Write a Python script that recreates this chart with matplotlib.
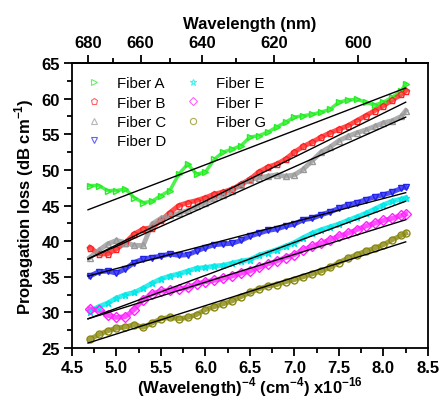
import matplotlib
matplotlib.use("Agg")
import matplotlib.pyplot as plt
from matplotlib.ticker import MultipleLocator, FixedLocator, FormatStrFormatter

plt.rcParams['font.family'] = ['Liberation Sans', 'DejaVu Sans']
plt.rcParams['mathtext.fontset'] = 'custom'
plt.rcParams['mathtext.rm'] = 'Liberation Sans'
plt.rcParams['mathtext.bf'] = 'Liberation Sans:bold'

# (wavelength)^-4 in units of 1e16 cm^-4
x_vals = [4.7, 4.8, 4.9, 5.0, 5.1, 5.2, 5.3, 5.4, 5.5, 5.6, 5.7, 5.8, 5.9,
          6.0, 6.1, 6.2, 6.3, 6.4, 6.5, 6.6, 6.7, 6.8, 6.9, 7.0, 7.1, 7.2,
          7.3, 7.4, 7.5, 7.6, 7.7, 7.8, 7.9, 8.0, 8.1, 8.2, 8.25]

fiber_a = [47.8, 47.8, 47.1, 47.1, 47.3, 46.1, 45.4, 45.6, 46.4, 47.1, 49.4, 50.8, 49.4,
           49.7, 51.5, 52.5, 52.9, 53.4, 54.6, 54.8, 55.3, 56.0, 56.7, 57.4, 57.6, 57.8,
           58.1, 58.5, 59.5, 59.8, 59.9, 59.5, 59.1, 59.5, 60.2, 61.1, 62.1]
fiber_b = [39.1, 38.2, 38.2, 38.9, 39.8, 41.0, 41.7, 41.9, 42.9, 44.0, 45.0, 45.4, 45.7,
           46.1, 46.6, 46.9, 47.3, 48.0, 48.7, 49.7, 50.4, 50.8, 51.5, 52.5, 53.3, 53.9,
           54.6, 55.2, 55.7, 56.2, 56.9, 57.6, 58.3, 59.0, 59.8, 60.6, 61.1]
fiber_c = [37.7, 38.7, 39.6, 40.1, 39.8, 39.4, 39.4, 42.4, 43.2, 43.6, 43.9, 44.3, 44.9,
           45.4, 46.0, 46.5, 47.1, 47.9, 48.6, 48.9, 49.1, 49.3, 49.1, 49.3, 50.1, 51.3,
           52.5, 53.2, 54.1, 54.7, 55.2, 55.6, 56.1, 56.6, 56.9, 57.5, 58.3]
fiber_d = [35.1, 35.7, 35.8, 35.5, 36.1, 37.0, 37.5, 37.7, 37.9, 38.2, 38.0, 38.1, 38.6,
           39.1, 39.5, 39.6, 39.7, 40.1, 40.7, 41.1, 41.5, 41.7, 42.1, 42.4, 43.0, 43.2,
           43.7, 44.1, 44.6, 45.1, 45.4, 45.8, 46.2, 46.5, 46.9, 47.4, 47.6]
fiber_e = [30.1, 30.8, 31.3, 32.0, 32.5, 32.8, 33.4, 34.1, 34.7, 35.1, 35.4, 35.8, 36.2,
           36.3, 36.5, 36.6, 36.9, 37.2, 37.4, 38.0, 38.4, 38.8, 39.3, 39.8, 40.5, 41.1,
           41.6, 42.0, 42.4, 42.9, 43.4, 43.9, 44.5, 45.1, 45.6, 45.9, 46.1]
fiber_f = [30.5, 30.3, 29.6, 29.3, 29.4, 30.4, 31.8, 32.6, 33.0, 33.1, 33.3, 33.5, 34.0,
           34.3, 34.5, 34.8, 35.1, 35.5, 35.8, 36.3, 36.8, 37.2, 37.7, 38.1, 38.8, 39.3,
           39.7, 40.2, 40.7, 41.1, 41.6, 42.1, 42.5, 42.9, 43.2, 43.6, 43.8]
fiber_g = [26.2, 26.9, 27.4, 27.8, 27.95, 28.3, 27.9, 28.5, 29.1, 29.3, 29.1, 29.3, 29.7,
           30.4, 30.8, 31.2, 31.6, 32.2, 32.8, 33.3, 33.7, 33.9, 34.3, 34.6, 35.0, 35.4,
           35.8, 36.3, 37.0, 37.6, 38.1, 38.6, 39.0, 39.5, 40.2, 40.8, 41.1]

# linear fits: value at the first and last x
fit_x = [4.68, 8.25]
fit_a = [44.4, 61.5]
fit_b = [37.5, 59.5]
fit_c = [37.5, 57.4]
fit_d = [35.1, 46.8]
fit_e = [29.1, 45.6]
fit_f = [29.1, 43.0]
fit_g = [25.7, 39.9]

labels = ['Fiber A', 'Fiber B', 'Fiber C', 'Fiber D', 'Fiber E', 'Fiber F', 'Fiber G']
series = [fiber_a, fiber_b, fiber_c, fiber_d, fiber_e, fiber_f, fiber_g]
fits = [fit_a, fit_b, fit_c, fit_d, fit_e, fit_f, fit_g]
colors = ['#22ee22', '#ff2222', '#999999', '#2222ee', '#00e8e8', '#ff22ff', '#888811']
markers = ['>', 'p', '^', 'v', '*', 'D', 'o']


def to_nm(x):
    return 1000 * (abs(x) + 1e-9) ** -0.25


def from_nm(w):
    return (1000 / (abs(w) + 1e-9)) ** 4


fig = plt.figure(figsize=(4.4, 4.02), dpi=100)
ax = fig.add_axes([0.1636, 0.1318, 0.809, 0.709])

for ys, fit, c, m, lab in zip(series, fits, colors, markers, labels):
    lw = 2.5 if lab == 'Fiber A' else 3.5
    ax.plot(x_vals, ys, color=c, lw=lw, alpha=0.8, zorder=2)
    ax.plot(x_vals, ys, ls='none', marker=m, mfc='none', mec=c, ms=5,
            mew=1, zorder=3)
    ax.plot(fit_x, fit, color='black', lw=1, zorder=4)

# legend handles: small light markers only
handles = [plt.Line2D([], [], ls='none', marker=m, mfc='none', mec=c, ms=4.5,
                      mew=0.8, alpha=0.7, label=lab)
           for c, m, lab in zip(colors, markers, labels)]

ax.set_xlim(4.5, 8.5)
ax.set_ylim(25, 65)
ax.xaxis.set_major_locator(MultipleLocator(0.5))
ax.xaxis.set_minor_locator(MultipleLocator(0.25))
ax.yaxis.set_major_locator(MultipleLocator(5))
ax.yaxis.set_minor_locator(MultipleLocator(2.5))
ax.xaxis.set_major_formatter(FormatStrFormatter('%.1f'))
ax.tick_params(which='major', direction='out', length=6, width=1.3,
               labelsize=12, top=False, right=False, pad=2.5)
ax.tick_params(which='minor', direction='out', length=3.5, width=1.3,
               top=False, right=False)
for lbl in ax.get_xticklabels() + ax.get_yticklabels():
    lbl.set_fontweight('bold')
for sp in ax.spines.values():
    sp.set_linewidth(1.3)

ax.set_xlabel(r'(Wavelength)$^{\mathbf{-4}}$ (cm$^{\mathbf{-4}}$) x10$^{\mathbf{-16}}$',
              fontsize=12, fontweight='bold', labelpad=0)
ax.set_ylabel(r'Propagation loss (dB cm$^{\mathbf{-1}}$)',
              fontsize=12, fontweight='bold', labelpad=4)

top = ax.secondary_xaxis('top', functions=(to_nm, from_nm))
top.xaxis.set_major_locator(FixedLocator([680, 660, 640, 620, 600]))
top.xaxis.set_minor_locator(FixedLocator([670, 650, 630, 610, 590]))
top.tick_params(which='major', direction='out', length=6, width=1.3, labelsize=12)
top.tick_params(which='minor', direction='out', length=3.5, width=1.3)
for lbl in top.get_xticklabels():
    lbl.set_fontweight('bold')
top.spines['top'].set_linewidth(1.3)
top.set_xlabel('Wavelength (nm)', fontsize=12, fontweight='bold', labelpad=5)

ax.legend(handles=handles, ncol=2, loc='upper left', frameon=False, fontsize=10.8,
          handlelength=1.2, handletextpad=0.9, columnspacing=1.2, labelspacing=0.35,
          borderaxespad=0.5)

fig.savefig('out.png', dpi=100)
